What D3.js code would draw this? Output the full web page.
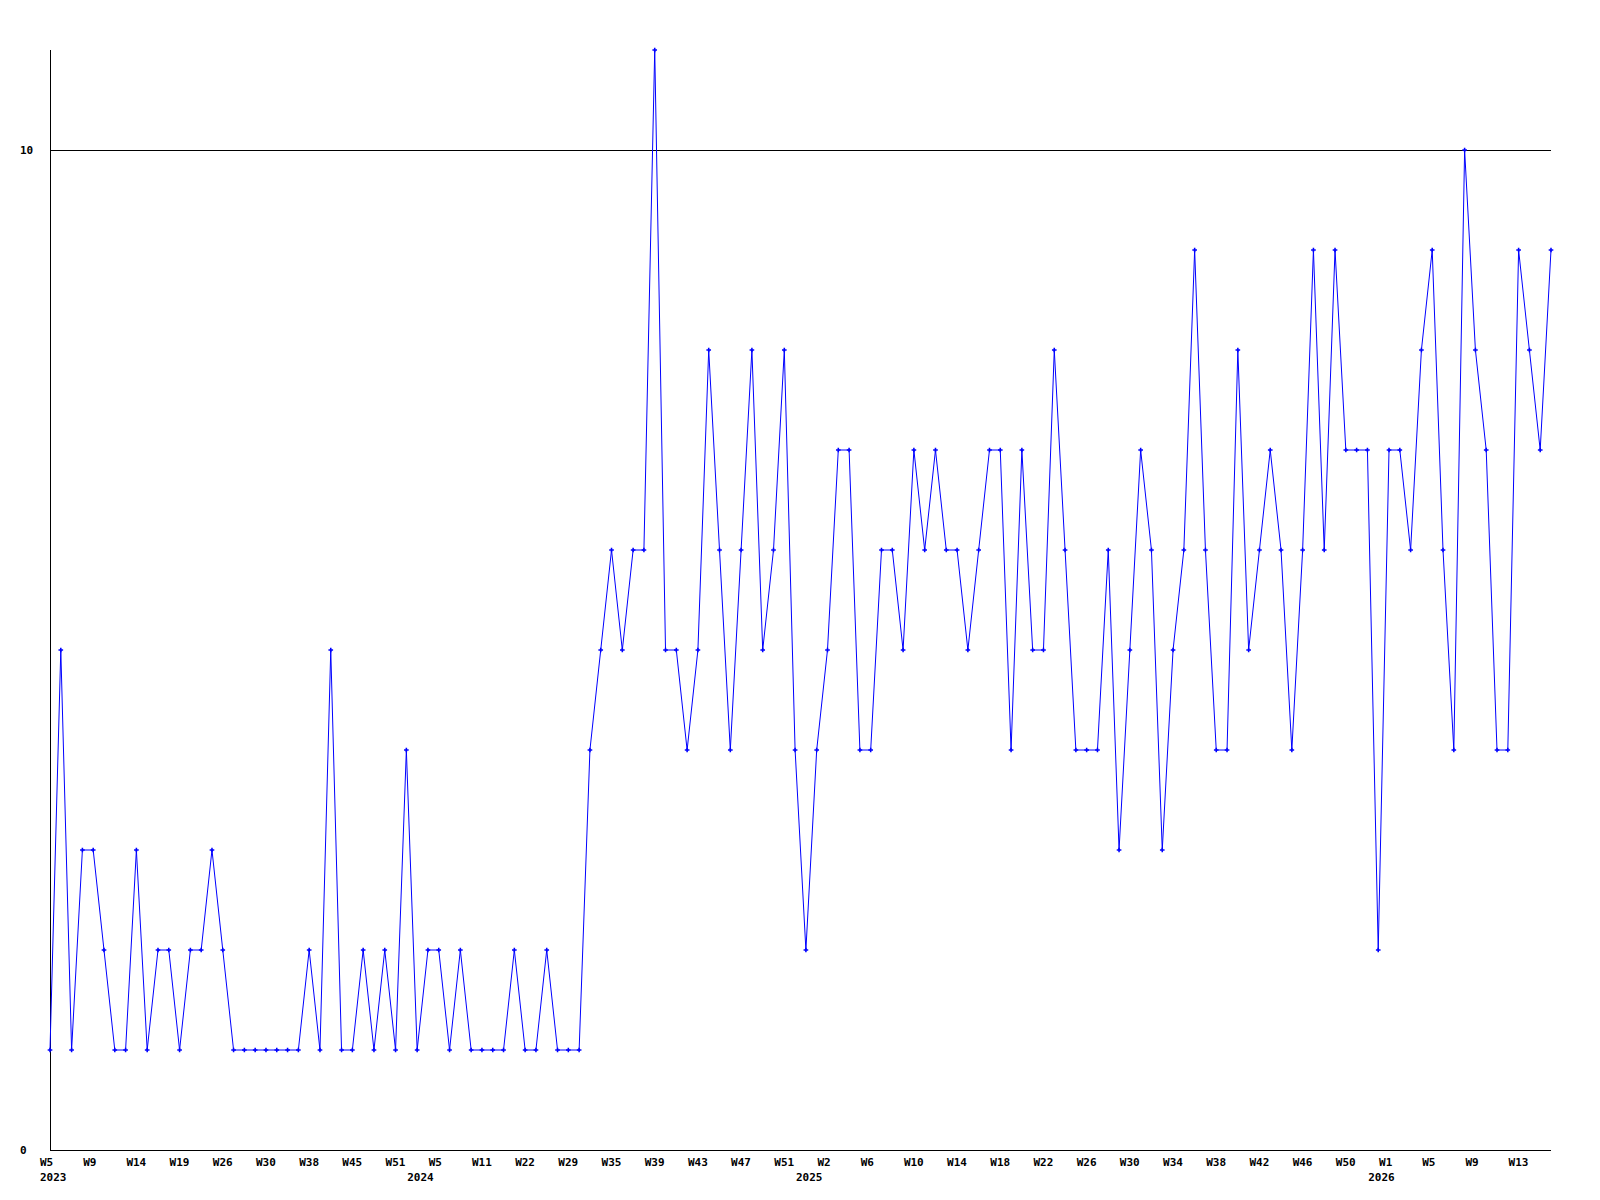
<!DOCTYPE html>
<html>
<head>
<meta charset="utf-8">
<script src="https://cdn.jsdelivr.net/npm/d3@7"></script>
<style>
  body { margin: 0; background: #fff; }
  text { font-family: "DejaVu Sans Mono", "Liberation Mono", monospace; font-weight: bold; font-size: 11px; fill: #000; }
</style>
</head>
<body>
<div id="chart"></div>
<script>
// --------------------------------------
//  Data
// --------------------------------------

const values = [
  1, 5, 1, 3, 3, 2, 1, 1, 3, 1, 2, 2, 1, 2, 2, 3, 2, 1, 1, 1,
  1, 1, 1, 1, 2, 1, 5, 1, 1, 2, 1, 2, 1, 4, 1, 2, 2, 1, 2, 1,
  1, 1, 1, 2, 1, 1, 2, 1, 1, 1, 4, 5, 6, 5, 6, 6, 11, 5, 5, 4,
  5, 8, 6, 4, 6, 8, 5, 6, 8, 4, 2, 4, 5, 7, 7, 4, 4, 6, 6, 5,
  7, 6, 7, 6, 6, 5, 6, 7, 7, 4, 7, 5, 5, 8, 6, 4, 4, 4, 6, 3,
  5, 7, 6, 3, 5, 6, 9, 6, 4, 4, 8, 5, 6, 7, 6, 4, 6, 9, 6, 9,
  7, 7, 7, 2, 7, 7, 6, 8, 9, 6, 4, 10, 8, 7, 4, 4, 9, 8, 7, 9
];

// one label for every 4th week point
const weekLabels = [
  "W5", "W9", "W14", "W19", "W26", "W30", "W38", "W45", "W51",
  "W5", "W11", "W22", "W29", "W35", "W39", "W43", "W47", "W51",
  "W2", "W6", "W10", "W14", "W18", "W22", "W26", "W30", "W34", "W38", "W42", "W46", "W50",
  "W1", "W5", "W9", "W13"
];

const years = ["2023", "2024", "2025", "2026"];
const yearStart = [0, 34, 70, 123];   // point index where each year begins

const yTicks = [0, 10];

// --------------------------------------
//  Canvas
// --------------------------------------

const width = 1600, height = 1200;
const margin = { left: 50, right: 49, top: 50, bottom: 50 };

const svg = d3.select("#chart")
  .append("svg")
    .attr("width", width)
    .attr("height", height);

// --------------------------------------
// Scales
// --------------------------------------

const x = d3.scalePoint()
    .domain(d3.range(values.length))
    .range([margin.left, width - margin.right]);

const y = d3.scaleLinear()
    .domain([0, 11])
    .range([height - margin.bottom, margin.top]);

// --------------------------------------
// Axes
// --------------------------------------

const axes = svg.append("g")
    .attr("shape-rendering", "crispEdges")
    .attr("stroke", "#000")
    .attr("stroke-width", 1);

axes.append("line")
    .attr("x1", margin.left + 0.5).attr("x2", margin.left + 0.5)
    .attr("y1", y(11)).attr("y2", y(0));

axes.append("line")
    .attr("x1", margin.left).attr("x2", x(values.length - 1))
    .attr("y1", y(0) + 0.5).attr("y2", y(0) + 0.5);

axes.append("line")
    .attr("x1", margin.left).attr("x2", x(values.length - 1))
    .attr("y1", y(10) + 0.5).attr("y2", y(10) + 0.5);

svg.selectAll("text.ylab")
    .data(yTicks)
    .join("text")
    .attr("class", "ylab")
    .attr("x", 20)
    .attr("y", d => y(d) + 4)
    .text(d => d);

svg.selectAll("text.week")
    .data(weekLabels)
    .join("text")
    .attr("class", "week")
    .attr("x", (d, i) => x(i * 4) - 10)
    .attr("y", 1166)
    .text(d => d);

svg.selectAll("text.year")
    .data(years)
    .join("text")
    .attr("class", "year")
    .attr("x", (d, i) => x(yearStart[i]) - 10)
    .attr("y", 1181)
    .text(d => d);

// --------------------------------------
// Line and markers
// --------------------------------------

const line = d3.line()
    .x((d, i) => x(i))
    .y(d => y(d));

svg.append("path")
    .datum(values)
    .attr("d", line)
    .attr("fill", "none")
    .attr("stroke", "#0000ff")
    .attr("stroke-width", 1);

svg.selectAll("path.mark")
    .data(values)
    .join("path")
    .attr("class", "mark")
    .attr("transform", (d, i) => `translate(${x(i)}, ${y(d)})`)
    .attr("d", d3.symbol(d3.symbolCross, 12))
    .attr("fill", "#0000ff");
</script>
</body>
</html>
